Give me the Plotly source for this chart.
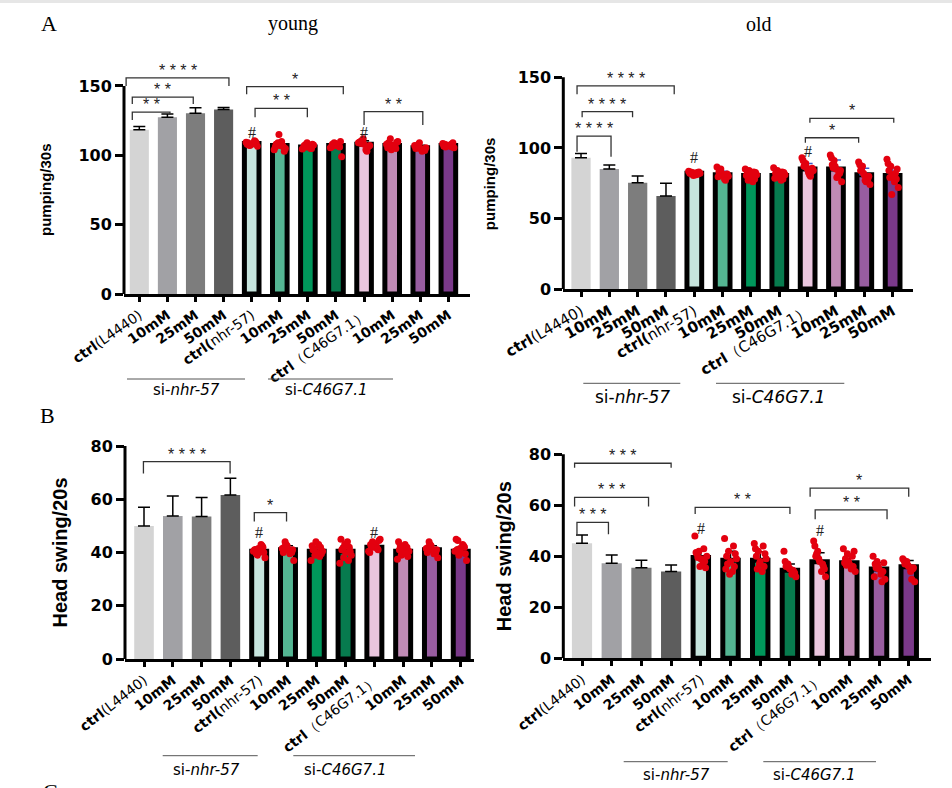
import plotly.graph_objects as go

W, H = 952, 788

# ---------------- data ----------------
tick_labels = ["<b>ctrl</b>(L4440)", "<b>10mM</b>", "<b>25mM</b>", "<b>50mM</b>",
               "<b>ctrl(</b>nhr-57)", "<b>10mM</b>", "<b>25mM</b>", "<b>50mM</b>",
               "<b>ctrl</b>（C46G7.1）", "<b>10mM</b>", "<b>25mM</b>", "<b>50mM</b>"]
gray_colors = ["#d4d4d4", "#a1a1a5", "#7d7d7d", "#5d5d5d"]
color_bars = ["#c6e4dd", "#54b592", "#00975b", "#077b4e",
              "#eac6de", "#c08bb5", "#985da0", "#7a398a"]

young_pump_mean = [118.5, 127.5, 130.3, 133.0, 108.5, 107.0, 106.0, 107.0, 108.0, 107.0, 105.5, 107.0]
young_pump_sd = [2.2, 2.2, 4.0, 1.5, 1.2, 2.5, 1.5, 2.0, 2.5, 2.0, 1.8, 1.2]
young_pump_dots = [
    [108, 109, 110, 107, 108.5, 109.5, 106.5, 108, 110.5, 107.5, 109, 108],
    [107, 108, 106, 109, 110, 104, 105, 115, 107, 108, 103, 106],
    [106, 107, 105, 108, 106.5, 104.5, 107.5, 109, 105, 106, 108, 105.5],
    [107, 108, 106, 109, 107.5, 105.5, 99, 108.5, 106.5, 107, 110, 106],
    [108, 110, 106, 111, 104, 109, 107, 112, 103, 108.5, 106.5, 109.5],
    [107, 109, 105, 112, 106, 108, 110, 104, 107.5, 106.5, 109.5, 105.5],
    [105, 106, 104, 108, 103, 107, 105.5, 109, 104.5, 106.5, 103.5, 105],
    [107, 108, 106, 107.5, 106.5, 108.5, 105.5, 107, 108, 106, 109, 106.5],
]

old_pump_mean = [93.0, 85.0, 75.3, 65.9, 82.0, 81.0, 80.5, 80.5, 85.0, 85.0, 81.0, 80.5]
old_pump_sd = [3.0, 2.9, 4.8, 9.0, 1.0, 2.5, 2.5, 2.5, 4.0, 6.5, 4.5, 5.5]
old_pump_dots = [
    [82, 83, 81.5, 82.5, 81, 83.5, 82, 80.5, 82.5, 81.5, 83, 82],
    [81, 83, 79, 85, 78, 86.5, 80, 82, 77, 84, 81.5, 79.5],
    [80, 82, 78, 84, 76, 85, 81, 79, 83, 77, 82.5, 80.5],
    [80, 82, 78, 84, 77, 86, 81, 79, 83, 80.5, 82.5, 78.5],
    [85, 87, 83, 89, 81, 93, 84, 86, 80, 88, 85.5, 91, 82.5],
    [85, 88, 82, 91, 80, 95, 76, 87, 83, 86, 84, 93, 79],
    [81, 84, 78, 87, 76, 90, 74, 82, 79, 85, 80, 88, 77],
    [81, 84, 78, 87, 76, 92, 72, 67, 82, 79, 85, 89, 80],
]

young_head_mean = [50.0, 53.7, 53.5, 61.6, 40.5, 41.0, 40.5, 40.5, 42.0, 40.5, 41.0, 40.5]
young_head_sd = [7.0, 7.5, 7.2, 6.3, 1.5, 1.5, 1.5, 2.0, 1.5, 1.5, 1.5, 1.5]
young_head_dots = [
    [40, 41, 42, 39, 43, 40.5, 38, 41.5, 42.5, 39.5, 40, 41],
    [41, 42, 40, 43, 39.5, 41.5, 37, 42.5, 40.5, 44, 41, 40],
    [40, 41, 42, 39, 43, 37, 40.5, 44, 38.5, 41.5, 39.5, 42.5],
    [40, 41, 42, 38, 44, 36, 39, 43, 37, 41.5, 40.5, 45],
    [42, 43, 41, 44, 42.5, 40.5, 45, 43.5, 41.5, 42, 44.5, 40],
    [40, 41, 42, 39, 43, 37.5, 40.5, 41.5, 39.5, 42.5, 38.5, 44],
    [41, 42, 40, 43, 39.5, 41.5, 38, 42.5, 40.5, 44, 41, 40],
    [40, 41, 42, 39, 43, 40.5, 37, 41.5, 42.5, 44.5, 39.5, 45],
]

old_head_mean = [45.1, 37.3, 35.5, 34.0, 39.5, 38.5, 38.5, 34.5, 37.9, 37.5, 35.0, 35.9]
old_head_sd = [3.3, 3.2, 3.0, 2.6, 3.0, 3.5, 3.3, 2.5, 3.5, 3.0, 2.5, 2.5]
old_head_dots = [
    [39, 41, 38, 42, 37, 48, 40, 36, 43, 39.5, 35.5, 41.5],
    [38, 40, 36, 42, 34, 47, 39, 33, 44, 37, 41, 35],
    [38, 40, 36, 42, 34, 45, 39, 37, 44, 35, 41, 43],
    [35, 36, 34, 37, 33, 42, 32, 35.5, 34.5, 36.5, 33.5, 38],
    [38, 40, 36, 42, 34, 46, 32, 39, 37, 41, 35, 44],
    [37, 39, 36, 41, 35, 43, 34, 38, 40, 36.5, 42, 37.5],
    [35, 37, 34, 38, 33, 40, 31, 36, 30, 35.5, 37.5, 32],
    [36, 37, 35, 38, 34, 39, 30, 36.5, 31, 37.5, 35.5, 38.5],
]

# significance brackets: (left, right, top, left-leg end, right-leg end, label)
young_pump_sig = [(-0.25, 1.09, 131.2, 125.5, 129.0, "**"),
                  (-0.25, 1.92, 142.0, 137.0, 137.0, "**"),
                  (-0.47, 3.19, 155.8, 150.0, 150.0, "****"),
                  (3.82, 7.26, 149.5, 144.0, 144.0, "*"),
                  (4.12, 5.98, 133.9, 127.4, 127.4, "**"),
                  (8.0, 10.09, 131.5, 121.9, 121.9, "**")]
old_pump_sig = [(-0.14, 1.06, 108.4, 97.3, 93.8, "****"),
                (0.04, 1.82, 125.7, 121.7, 121.7, "****"),
                (-0.14, 3.29, 143.9, 138.0, 138.0, "****"),
                (7.92, 9.8, 107.2, 103.7, 103.7, "*"),
                (8.08, 11.04, 121.0, 117.8, 117.8, "*")]
young_head_sig = [(-0.02, 2.99, 74.1, 69.7, 69.7, "****"),
                  (3.83, 4.95, 55.0, 51.6, 51.6, "*")]
old_head_sig = [(-0.17, 0.89, 53.3, 48.6, 48.6, "***"),
                (-0.25, 2.24, 63.1, 59.5, 59.5, "***"),
                (-0.25, 3.0, 76.5, 74.7, 74.7, "***"),
                (3.81, 7.0, 59.2, 56.6, 56.6, "**"),
                (7.85, 10.27, 58.2, 54.5, 54.5, "**"),
                (7.68, 11.0, 66.7, 63.4, 63.4, "*")]

# ---------------- layout helpers ----------------
def fx(px):
    return px / W

def fy(py):
    return 1 - py / H

JIT = [0, -0.13, 0.13, -0.065, 0.065, -0.2, 0.2, -0.03, 0.1, -0.1, 0.16, -0.16, 0.03]
RED = "#e3000f"

panels = [
    dict(n="", mean=young_pump_mean, sd=young_pump_sd, dots=young_pump_dots, sig=young_pump_sig,
         hash_y=[116.3, 116.3], xpx=(124, 470), xr=[-0.545, 11.77], ybot=294, ytop=51.3, yr=[0, 175],
         ytick=[0, 50, 100, 150], ylab="pumping/30s", ylab_x=46, ylab_size=15,
         tsize=14, tangle=-35, ecol="black",
         grp=[(127, 245, 186), (268, 393, 326)], gline_y=379, gtext_y=390, gsize=15),
    dict(n="2", mean=old_pump_mean, sd=old_pump_sd, dots=old_pump_dots, sig=old_pump_sig,
         hash_y=[93.0, 97.8], xpx=(563.3, 913.3), xr=[-0.625, 11.73], ybot=289, ytop=56.2, yr=[0, 165],
         ytick=[0, 50, 100, 150], ylab="pumping/30s", ylab_x=489, ylab_size=15,
         tsize=15, tangle=-30, ecol="#3b5bc8",
         grp=[(583.3, 680.3, 632.7), (716, 844.3, 778.7)], gline_y=383.3, gtext_y=396.7, gsize=17),
    dict(n="3", mean=young_head_mean, sd=young_head_sd, dots=young_head_dots, sig=young_head_sig,
         hash_y=[47.4, 47.4], xpx=(125, 474), xr=[-0.66, 11.46], ybot=659, ytop=432.7, yr=[0, 85],
         ytick=[0, 20, 40, 60, 80], ylab="Head swing/20s", ylab_x=60, ylab_size=20,
         tsize=14, tangle=-38, ecol="black",
         grp=[(162.7, 257.7, 206.7), (293.3, 415, 345)], gline_y=755.7, gtext_y=770, gsize=15),
    dict(n="4", mean=old_head_mean, sd=old_head_sd, dots=old_head_dots, sig=old_head_sig,
         hash_y=[51.0, 50.0], xpx=(563.3, 931), xr=[-0.63, 11.75], ybot=658.3, ytop=433.9, yr=[0, 88],
         ytick=[0, 20, 40, 60, 80], ylab="Head swing/20s", ylab_x=504, ylab_size=20,
         tsize=14, tangle=-38, ecol="black",
         grp=[(623.7, 727.7, 676), (763.3, 876, 814.3)], gline_y=761.7, gtext_y=775, gsize=15),
]

fig = go.Figure()
shapes = []
annotations = []
layout_axes = {}

for p in panels:
    xa, ya = "x" + p["n"], "y" + p["n"]
    # gray bars
    fig.add_trace(go.Bar(
        x=list(range(4)), y=p["mean"][:4], width=0.68, xaxis=xa, yaxis=ya,
        marker=dict(color=gray_colors, line=dict(width=0)),
        error_y=dict(type="data", array=p["sd"][:4], arrayminus=[0] * 4, symmetric=False,
                     color="black", thickness=1.5, width=6),
        hoverinfo="skip"))
    # coloured bars
    fig.add_trace(go.Bar(
        x=list(range(4, 12)), y=p["mean"][4:], width=0.52, xaxis=xa, yaxis=ya,
        marker=dict(color=color_bars, line=dict(width=5, color="black")),
        error_y=dict(type="data", array=p["sd"][4:], arrayminus=[0] * 8, symmetric=False,
                     color=p["ecol"], thickness=1.5, width=5),
        hoverinfo="skip"))
    # dots
    xs, ys = [], []
    for i, vals in enumerate(p["dots"]):
        for k, v in enumerate(vals):
            xs.append(4 + i + JIT[k % len(JIT)])
            ys.append(v)
    fig.add_trace(go.Scatter(x=xs, y=ys, mode="markers", xaxis=xa, yaxis=ya, cliponaxis=False,
                             marker=dict(color=RED, size=7, line=dict(width=0)), hoverinfo="skip"))
    # brackets + stars
    for (x0, x1, top, yl, yr_, lab) in p["sig"]:
        fig.add_trace(go.Scatter(x=[x0, x0, x1, x1], y=[yl, top, top, yr_], mode="lines",
                                 xaxis=xa, yaxis=ya, line=dict(color="#333333", width=1.3),
                                 hoverinfo="skip"))
        annotations.append(dict(x=(x0 + x1) / 2, y=top, xref=xa, yref=ya, text=" ".join(lab),
                                showarrow=False, xanchor="center", yanchor="bottom", yshift=-3,
                                font=dict(family="Arial", size=16, color="#222222")))
    for bi, hy in zip([4, 8], p["hash_y"]):
        annotations.append(dict(x=bi, y=hy, xref=xa, yref=ya, text="#", showarrow=False,
                                xanchor="center", yanchor="middle",
                                font=dict(family="Liberation Serif", size=16, color="#222222")))
    # y axis title
    annotations.append(dict(x=fx(p["ylab_x"]), y=p["ytick"][-1] / 2, xref="paper", yref=ya,
                            text=p["ylab"], textangle=-90, showarrow=False,
                            xanchor="center", yanchor="middle",
                            font=dict(family="Arial", size=p["ylab_size"], color="black", weight="bold")))
    # y axis line from 0 to top tick
    shapes.append(dict(type="line", xref="paper", yref=ya, x0=fx(p["xpx"][0]), x1=fx(p["xpx"][0]),
                       y0=0, y1=p["ytick"][-1], line=dict(color="black", width=3)))
    # group labels
    for (g0, g1, gc), name in zip(p["grp"], ["si-<i>nhr-57</i>", "si-<i>C46G7.1</i>"]):
        shapes.append(dict(type="line", xref="paper", yref="paper", x0=fx(g0), x1=fx(g1),
                           y0=fy(p["gline_y"]), y1=fy(p["gline_y"]), line=dict(color="#555555", width=1)))
        annotations.append(dict(x=fx(gc), y=fy(p["gtext_y"]), xref="paper", yref="paper", text=name,
                                showarrow=False, xanchor="center", yanchor="middle",
                                font=dict(family="DejaVu Sans", size=p["gsize"], color="black")))

    layout_axes["xaxis" + p["n"]] = dict(
        domain=[fx(p["xpx"][0]), fx(p["xpx"][1])], range=p["xr"], anchor=ya, automargin=False,
        tickvals=list(range(12)), ticktext=tick_labels, tickangle=p["tangle"],
        ticks="outside", ticklen=5, tickwidth=2.5, tickcolor="black",
        showline=True, linewidth=2.5, linecolor="black", showgrid=False, zeroline=False,
        tickfont=dict(family="DejaVu Sans", size=p["tsize"], color="black"))
    layout_axes["yaxis" + p["n"]] = dict(
        domain=[fy(p["ybot"]), fy(p["ytop"])], range=p["yr"], anchor=xa, automargin=False,
        tickvals=p["ytick"], ticks="outside", ticklen=8, tickwidth=2.5, tickcolor="black",
        showline=False, showgrid=False, zeroline=False,
        tickfont=dict(family="DejaVu Sans", size=16, color="black", weight="bold"))

# panel titles and letters
for txt, x, y, s in [("young", 293, 24, 20), ("old", 759, 24, 20), ("A", 49, 24, 22), ("B", 47, 415, 22)]:
    annotations.append(dict(x=fx(x), y=fy(y), xref="paper", yref="paper", text=txt, showarrow=False,
                            xanchor="center", yanchor="middle",
                            font=dict(family="Liberation Serif", size=s, color="black")))
annotations.append(dict(x=fx(50), y=fy(777), xref="paper", yref="paper", text="C", showarrow=False,
                        xanchor="center", yanchor="top",
                        font=dict(family="Liberation Serif", size=22, color="black")))
shapes.append(dict(type="rect", xref="paper", yref="paper", x0=0, x1=1, y0=fy(3), y1=1,
                   fillcolor="#e6e6e6", line=dict(width=0), layer="below"))

fig.update_layout(width=W, height=H, margin=dict(l=0, r=0, t=0, b=0, autoexpand=False),
                  template="none",
                  paper_bgcolor="white", plot_bgcolor="white", showlegend=False,
                  barmode="overlay", shapes=shapes, annotations=annotations, **layout_axes)

fig.write_html("out.html", config={"responsive": False, "displayModeBar": False},
               post_script="document.body.style.margin='0px';document.body.style.overflow='hidden';")
